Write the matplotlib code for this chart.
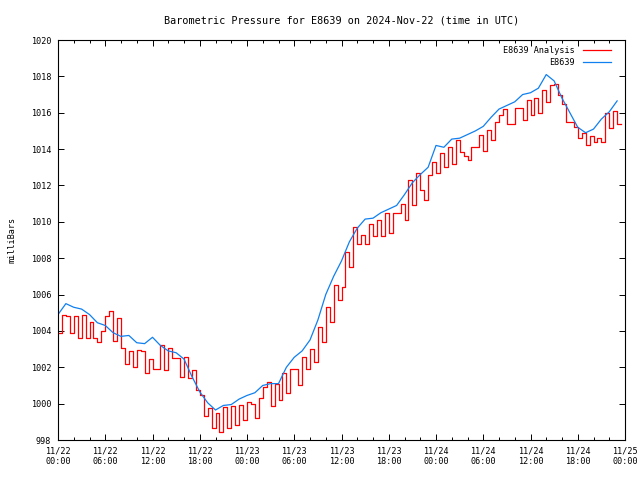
import numpy as np
import pandas as pd
import matplotlib
matplotlib.use("Agg")
import matplotlib.pyplot as plt
import matplotlib.dates as mdates

# station E8639, pressure in millibars
# analysis: one value every 30 minutes from 2024-11-22 00:00 UTC
analysis_mb = [
    1003.9, 1004.9, 1004.8, 1003.9, 1004.8, 1003.6, 1004.9, 1003.6, 1004.5, 1003.6,
    1003.4, 1004.0, 1004.8, 1005.1, 1003.45, 1004.7, 1003.05, 1002.2, 1002.9, 1002.0,
    1002.95, 1002.9, 1001.7, 1002.45, 1001.9, 1001.9, 1003.2, 1001.85, 1003.06, 1002.5,
    1002.5, 1001.47, 1002.57, 1001.4, 1001.85, 1000.75, 1000.5, 999.3, 999.76, 998.66,
    999.5, 998.44, 999.8, 998.66, 999.87, 998.8, 999.93, 999.1, 1000.1, 1000.0,
    999.2, 1000.3, 1000.9, 1001.2, 999.87, 1001.1, 1000.2, 1001.7, 1000.6, 1001.9,
    1001.9, 1001.0, 1002.57, 1001.9, 1003.0, 1002.3, 1004.2, 1003.4, 1005.3, 1004.5,
    1006.5, 1005.7, 1006.4, 1008.35, 1007.5, 1009.7, 1008.8, 1009.3, 1008.8, 1009.9,
    1009.2, 1010.1, 1009.2, 1010.5, 1009.4, 1010.5, 1010.5, 1011.0, 1010.1, 1012.3,
    1010.9, 1012.7, 1011.75, 1011.2, 1012.6, 1013.3, 1012.7, 1013.8, 1013.0, 1014.1,
    1013.2, 1014.5, 1013.85, 1013.6, 1013.4, 1014.1, 1014.1, 1014.8, 1013.9, 1015.05,
    1014.5, 1015.5, 1015.9, 1016.2, 1015.4, 1015.4, 1016.26, 1016.26, 1015.6, 1016.7,
    1015.9, 1016.8, 1016.0, 1017.25, 1016.6, 1017.5, 1017.6, 1017.0, 1016.5, 1015.5,
    1015.5, 1015.2, 1014.6, 1014.9, 1014.2, 1014.7, 1014.4, 1014.6, 1014.4, 1016.0,
    1015.15, 1016.1, 1015.4, 1015.4,
]

# observed: one value every hour from 2024-11-22 00:00 UTC
observed_mb = [
    1004.9, 1005.5, 1005.3, 1005.2, 1004.9, 1004.45, 1004.3, 1003.9, 1003.7, 1003.75,
    1003.35, 1003.3, 1003.65, 1003.2, 1002.9, 1002.8, 1002.45, 1001.5, 1000.65, 1000.05,
    999.65, 999.9, 999.95, 1000.25, 1000.45, 1000.6, 1001.0, 1001.1, 1001.1, 1002.0,
    1002.55, 1002.9, 1003.5, 1004.6, 1006.0, 1007.0, 1007.85, 1008.9, 1009.65, 1010.15,
    1010.2, 1010.5, 1010.7, 1010.9, 1011.5, 1012.15, 1012.6, 1013.0, 1014.2, 1014.1,
    1014.55, 1014.6, 1014.8, 1015.0, 1015.25, 1015.75, 1016.2, 1016.4, 1016.6, 1017.0,
    1017.1, 1017.35, 1018.1, 1017.75, 1016.8, 1016.0, 1015.2, 1014.9, 1015.1, 1015.65,
    1016.05, 1016.65,
]

t_analysis = pd.date_range("2024-11-22 00:00", periods=len(analysis_mb), freq="30min")
t_observed = pd.date_range("2024-11-22 00:00", periods=len(observed_mb), freq="1h")

plt.rcParams["font.family"] = ["DejaVu Sans Mono"]
plt.rcParams["font.size"] = 6.1

fig = plt.figure(figsize=(6.4, 4.8), dpi=100)
ax = fig.add_axes([58 / 640, 40 / 480, 567 / 640, 400 / 480])

ax.plot(t_analysis, analysis_mb, color="#ff0000", lw=0.9, drawstyle="steps-post",
        label="E8639 Analysis")
ax.plot(t_observed, observed_mb, color="#1080f0", lw=0.9, label="E8639")

ax.set_xlim(pd.Timestamp("2024-11-22 00:00"), pd.Timestamp("2024-11-25 00:00"))
ax.set_ylim(998, 1020)
ax.set_yticks(np.arange(998, 1021, 2))

ax.xaxis.set_major_locator(mdates.HourLocator(byhour=range(0, 24, 6)))
ax.xaxis.set_minor_locator(mdates.HourLocator(byhour=range(0, 24, 2)))
ax.xaxis.set_major_formatter(mdates.DateFormatter("%m/%d\n%H:%M"))

ax.tick_params(which="both", direction="in", top=True, right=True, width=0.7, pad=5)
ax.tick_params(which="major", length=4.5)
ax.tick_params(which="minor", length=2.5)
for s in ax.spines.values():
    s.set_linewidth(0.8)

ax.set_ylabel("milliBars", labelpad=10)
ax.set_title("Barometric Pressure for E8639 on 2024-Nov-22 (time in UTC)", pad=12)

ax.legend(loc="upper right", bbox_to_anchor=(0.9753, 0.986), frameon=False,
          markerfirst=False, handlelength=3.3, handletextpad=0.95,
          labelspacing=0.42, borderaxespad=0.0, borderpad=0.0)

fig.savefig("out.png", dpi=100)
